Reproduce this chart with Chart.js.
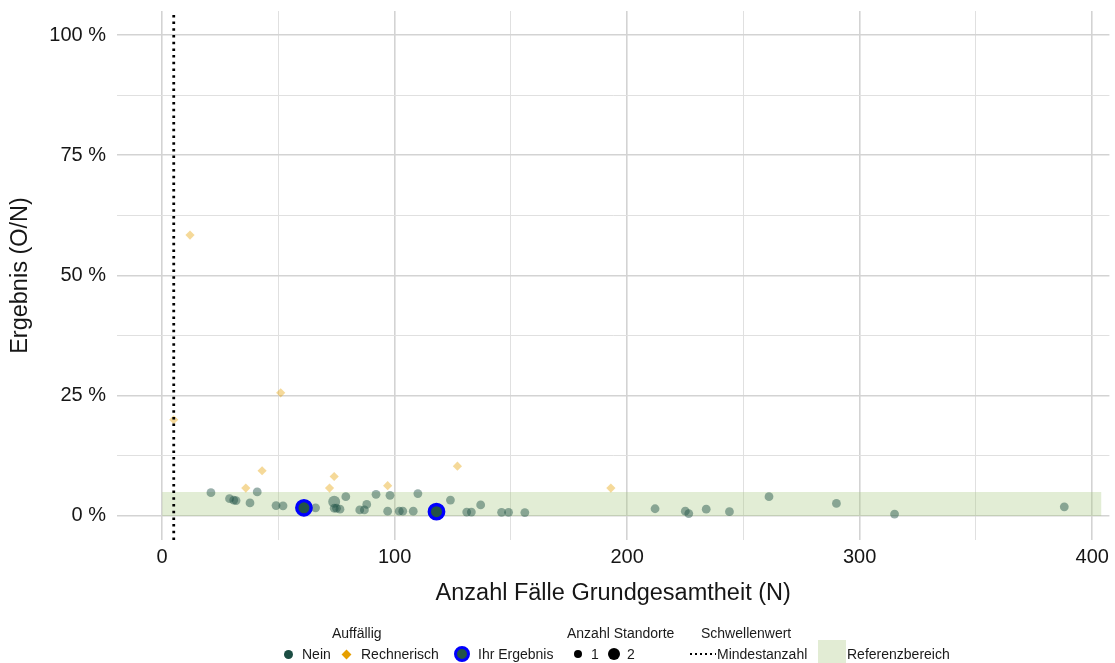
<!DOCTYPE html>
<html lang="de">
<head>
<meta charset="utf-8">
<title>Ergebnis nach Fallzahl</title>
<script src="https://cdn.jsdelivr.net/npm/chart.js@4.4.1/dist/chart.umd.min.js"></script>
<style>
  html, body { margin: 0; padding: 0; background: #fff; }
  body {
    width: 1115px; height: 663px; position: relative; overflow: hidden;
    font-family: "Liberation Sans", Arial, Helvetica, sans-serif; color: #1a1a1a;
  }
  #plot { position: absolute; left: 0; top: 0; }
  .legend { position: absolute; left: 0; top: 615px; width: 1115px; height: 48px; font-size: 14px; }
  .legend > * { position: absolute; white-space: nowrap; line-height: 16px; }
  .title { top: 10px; }
  .item { top: 31px; }
  .dot { border-radius: 50%; }
  .key-nein { left: 284px; top: 35px; width: 9px; height: 9px; background: #1b4d43; }
  .key-rech { left: 342px; top: 35px; width: 7px; height: 7px; background: #e69f00; transform: rotate(45deg); margin: 1px; }
  .key-ihr { left: 454px; top: 31px; width: 10px; height: 10px; background: #235447; border: 3px solid #0000ff; }
  .key-s1 { left: 574px; top: 35px; width: 8px; height: 8px; background: #000; }
  .key-s2 { left: 608px; top: 33px; width: 12px; height: 12px; background: #000; }
  .key-min { left: 690px; top: 38px; width: 26px; height: 2px;
    background: repeating-linear-gradient(90deg, #000 0 2px, transparent 2px 5px); }
  .key-ref { left: 818px; top: 25px; width: 28px; height: 28px; background: #e2ecd4; }
</style>
</head>
<body>
<!-- a little wider than the page so the panel runs out to the right edge -->
<canvas id="plot" width="1120" height="616"></canvas>

<div class="legend">
  <span class="title" style="left:332px">Auffällig</span>
  <span class="title" style="left:567px">Anzahl Standorte</span>
  <span class="title" style="left:701px">Schwellenwert</span>

  <i class="dot key-nein"></i><span class="item" style="left:302px">Nein</span>
  <i class="key-rech"></i><span class="item" style="left:361px">Rechnerisch</span>
  <i class="dot key-ihr"></i><span class="item" style="left:478px">Ihr Ergebnis</span>
  <i class="dot key-s1"></i><span class="item" style="left:591px">1</span>
  <i class="dot key-s2"></i><span class="item" style="left:627px">2</span>
  <i class="key-min"></i><span class="item" style="left:717px">Mindestanzahl</span>
  <i class="key-ref"></i><span class="item" style="left:847px">Referenzbereich</span>
</div>

<script>
// Standorte, nicht auffällig (Anzahl Standorte = 1)
const neinN    = [21, 29, 30.8, 31.8, 37.8, 40.9, 49, 52, 61, 66, 74, 75, 76.5, 79, 85, 87, 88, 92, 97, 98,
                  102, 103.5, 108, 110, 118, 124, 131, 133, 137, 146, 149, 156, 212, 225, 226.5, 234, 244, 261, 290, 315, 388];
const neinRate = [4.85, 3.6, 3.3, 3.2, 2.7, 5.0, 2.15, 2.1, 1.7, 1.7, 1.6, 1.6, 1.4, 4.0, 1.25, 1.25, 2.4, 4.5, 1.0, 4.3,
                  1.0, 1.0, 1.0, 4.65, 0.9, 3.3, 0.8, 0.8, 2.3, 0.75, 0.75, 0.7, 1.5, 1.0, 0.5, 1.4, 0.9, 4.0, 2.6, 0.4, 1.9];

// Standorte, nicht auffällig (Anzahl Standorte = 2)
const nein2N    = [74];
const nein2Rate = [2.95];

// rechnerisch auffällig
const rechN    = [5, 12, 36, 43, 51, 72, 74, 97, 127, 193];
const rechRate = [20, 58.4, 5.8, 9.4, 25.6, 5.8, 8.2, 6.3, 10.35, 5.8];

// eigenes Ergebnis
const ihrN    = [61, 118];
const ihrRate = [1.7, 0.9];

// Schwellenwert und Referenzbereich
const mindestanzahl = 5;
const referenzOben = 5;
const referenzBisN = 404;

// Achsen
const xLimits = [-19.4, 407.4];
const yLimits = [-5, 105];
const xGrid = [0, 50, 100, 150, 200, 250, 300, 350, 400];
const yGrid = [0, 12.5, 25, 37.5, 50, 62.5, 75, 87.5, 100];

const pts = (xs, ys) => xs.map((x, i) => ({ x, y: ys[i] }));

Chart.defaults.font.family = '"Liberation Sans", Arial, Helvetica, sans-serif';
Chart.defaults.color = '#161616';

const gridColor = (step) => (c) => (c.tick && c.tick.value % step === 0 ? '#d3d3d3' : '#e0e0e0');
const gridWidth = (step) => (c) => (c.tick && c.tick.value % step === 0 ? 1.6 : 1);

new Chart(document.getElementById('plot'), {
  type: 'scatter',
  data: {
    datasets: [
      {
        label: 'Mindestanzahl',
        type: 'line',
        data: pts([mindestanzahl, mindestanzahl], yLimits),
        borderColor: '#000',
        borderWidth: 2.8,
        borderDash: [2.5, 4.2],
        pointRadius: 0,
        order: 0,
      },
      {
        label: 'Ihr Ergebnis',
        data: pts(ihrN, ihrRate),
        pointRadius: 7.2,
        borderWidth: 3.4,
        borderColor: '#0000ff',
        backgroundColor: '#235447',
        order: 1,
      },
      {
        label: 'Nein (2)',
        data: pts(nein2N, nein2Rate),
        pointRadius: 6,
        borderWidth: 0,
        backgroundColor: 'rgba(27, 77, 67, 0.45)',
        order: 2,
      },
      {
        label: 'Nein',
        data: pts(neinN, neinRate),
        pointRadius: 4.4,
        borderWidth: 0,
        backgroundColor: 'rgba(27, 77, 67, 0.45)',
        order: 3,
      },
      {
        label: 'Rechnerisch',
        data: pts(rechN, rechRate),
        pointStyle: 'rectRot',
        pointRadius: 4.6,
        borderWidth: 0,
        backgroundColor: 'rgba(230, 159, 0, 0.4)',
        order: 3,
      },
      {
        label: 'Referenzbereich',
        type: 'line',
        data: pts([0, referenzBisN], [referenzOben, referenzOben]),
        fill: 'origin',
        backgroundColor: 'rgba(166, 200, 126, 0.33)',
        borderWidth: 0,
        pointRadius: 0,
        order: 10,
      },
    ],
  },
  options: {
    responsive: false,
    animation: false,
    events: [],
    layout: { padding: 0 },
    plugins: { legend: { display: false }, tooltip: { enabled: false } },
    scales: {
      x: {
        type: 'linear',
        min: xLimits[0],
        max: xLimits[1],
        afterBuildTicks: (s) => { s.ticks = xGrid.map((value) => ({ value })); },
        afterFit: (s) => { s.height = 76; },
        ticks: {
          autoSkip: false,
          maxRotation: 0,
          padding: 5,
          font: { size: 20 },
          callback: (v) => (v % 100 === 0 ? v : ''),
        },
        grid: { color: gridColor(100), lineWidth: gridWidth(100), drawTicks: false },
        border: { display: false },
        title: {
          display: true,
          text: 'Anzahl Fälle Grundgesamtheit (N)',
          font: { size: 23.5 },
          padding: { top: 4, bottom: 8 },
        },
      },
      y: {
        type: 'linear',
        min: yLimits[0],
        max: yLimits[1],
        afterBuildTicks: (s) => { s.ticks = yGrid.map((value) => ({ value })); },
        afterFit: (s) => { s.width = 117; s.paddingTop = 11; s.paddingBottom = 0; },
        ticks: {
          autoSkip: false,
          padding: 11,
          font: { size: 20 },
          callback: (v) => (v % 25 === 0 ? v + ' %' : ''),
        },
        grid: { color: gridColor(25), lineWidth: gridWidth(25), drawTicks: false },
        border: { display: false },
        title: {
          display: true,
          text: 'Ergebnis (O/N)',
          font: { size: 23.5 },
          padding: { top: 6, bottom: 4 },
        },
      },
    },
  },
});
</script>
</body>
</html>
